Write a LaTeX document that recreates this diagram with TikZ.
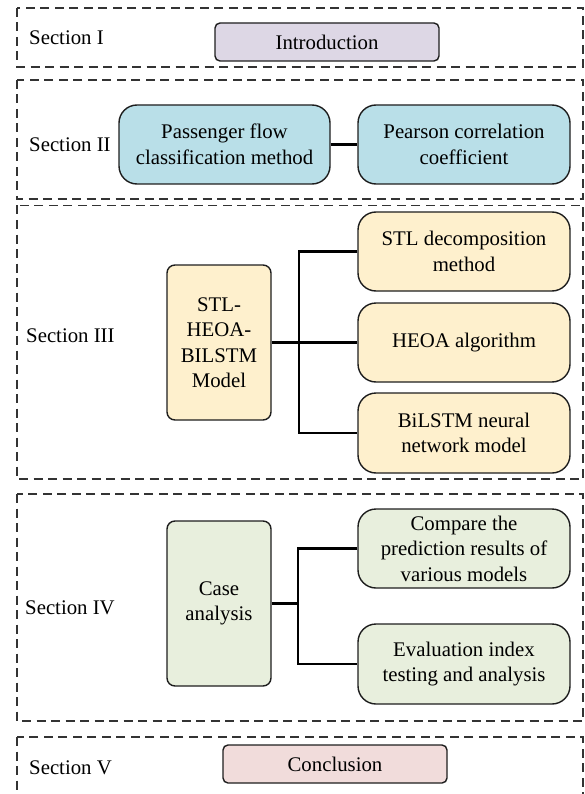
\documentclass[tikz,border=0pt]{standalone}
\usepackage{fontspec}
\setmainfont{Liberation Serif}
\definecolor{introc}{HTML}{DDD7E5}
\definecolor{bluec}{HTML}{B9DFE8}
\definecolor{yelc}{HTML}{FEF0CD}
\definecolor{grnc}{HTML}{E8EFDD}
\definecolor{pinkc}{HTML}{F1DCDB}
\definecolor{edgec}{HTML}{1E1E1E}
\definecolor{dashc}{HTML}{333333}
\tikzset{
  secbox/.style={draw=dashc, line width=1.3pt, dash pattern=on 9pt off 5.5pt},
  basebox/.style={draw=edgec, line width=1.4pt, inner sep=0pt, align=center,
     font=\fontsize{20.8}{25.5}\selectfont},
  flatbox/.style={basebox, rounded corners=5pt},
  roundbox/.style={basebox, rounded corners=18pt},
  mainbox/.style={basebox, rounded corners=8pt},
  seclabel/.style={anchor=west, inner sep=0pt, font=\fontsize{20.8}{25.5}\selectfont},
  conn/.style={draw=black, line width=2.2pt},
}
\begin{document}
\begin{tikzpicture}[x=1pt,y=-1pt]
\useasboundingbox (0,0) rectangle (584,794);
% section frames
\draw[secbox] (17,8) rectangle (583,67);
\draw[secbox] (17,80) rectangle (583,199);
\draw[secbox] (17,205.5) rectangle (583,479);
\draw[secbox] (17,494) rectangle (583,721);
\draw[secbox] (17,737) rectangle (583,805);
% labels
\node[seclabel] (l1) at (29,38) {Section I};
\node[seclabel] (l2) at (29,145) {Section II};
\node[seclabel] (l3) at (26,336) {Section III};
\node[seclabel] (l4) at (25,608) {Section IV};
\node[seclabel] (l5) at (29,768) {Section V};
% Section I
\node[flatbox, fill=introc, minimum width=224pt, minimum height=38pt] (intro) at (327,42) {Introduction};
% Section II
\node[roundbox, fill=bluec, minimum width=211pt, minimum height=79pt] (pass) at (224.5,144.5) {Passenger flow\\classification method};
\node[roundbox, fill=bluec, minimum width=212pt, minimum height=79pt] (pear) at (464,144.5) {Pearson correlation\\coefficient};
\draw[conn] (pass.east) -- (pear.west);
% Section III
\node[mainbox, fill=yelc, minimum width=104pt, minimum height=155pt] (model) at (219,342.5) {STL-\\HEOA-\\BILSTM\\Model};
\node[roundbox, fill=yelc, minimum width=212pt, minimum height=79pt] (stld) at (464,251.5) {STL decomposition\\method};
\node[roundbox, fill=yelc, minimum width=212pt, minimum height=79pt] (heoa) at (464,342.5) {HEOA algorithm};
\node[roundbox, fill=yelc, minimum width=212pt, minimum height=80pt] (bil) at (464,433) {BiLSTM neural\\network model};
\coordinate (t3) at (299,342.5);
\draw[conn] (model.east) -- (heoa.west);
\draw[conn] (stld.west) -| (t3) |- (bil.west);
% Section IV
\node[mainbox, fill=grnc, minimum width=104pt, minimum height=165pt] (case) at (219,603.5) {Case\\analysis};
\node[roundbox, fill=grnc, minimum width=212pt, minimum height=79pt] (cmp) at (464,548.5) {Compare the\\prediction results of\\various models};
\node[roundbox, fill=grnc, minimum width=212pt, minimum height=80pt] (eval) at (464,664) {Evaluation index\\testing and analysis};
\coordinate (t4) at (298,603.5);
\draw[conn] (case.east) -- (t4);
\draw[conn] (cmp.west) -| (t4) |- (eval.west);
% Section V
\node[flatbox, fill=pinkc, minimum width=224pt, minimum height=38pt] (concl) at (335,764) {Conclusion};
\end{tikzpicture}
\end{document}
